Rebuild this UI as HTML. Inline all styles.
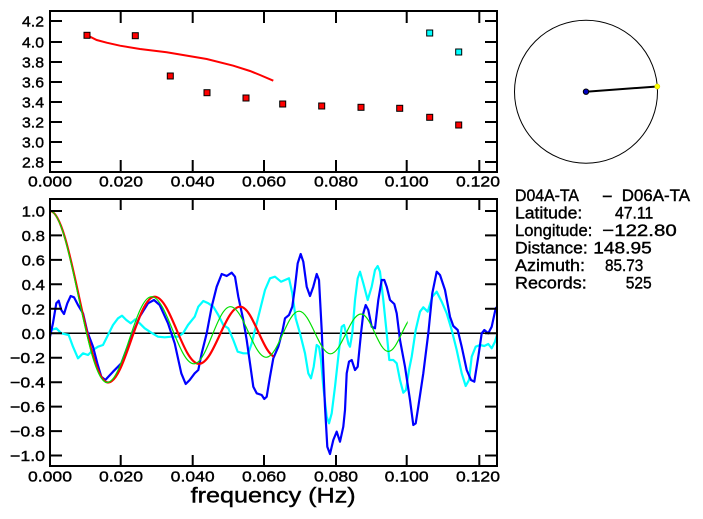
<!DOCTYPE html>
<html><head><meta charset="utf-8"><style>
html,body{margin:0;padding:0;background:#fff;}
svg{display:block;}
text{font-family:"Liberation Sans",sans-serif;fill:#000;stroke:#000;stroke-width:0.4;}
</style></head><body>
<svg width="703" height="519" viewBox="0 0 703 519" xmlns="http://www.w3.org/2000/svg">
<defs>
<clipPath id="cg"><rect x="0" y="190" width="407.7" height="290"/></clipPath>
<clipPath id="cr"><rect x="0" y="190" width="273.5" height="290"/></clipPath>
</defs>
<rect width="703" height="519" fill="#fff"/>

<!-- TOP PLOT -->
<rect x="50" y="11" width="447" height="161" fill="none" stroke="#000" stroke-width="2"/>
<path d="M50,21h12M50,42h12M50,62h12M50,82h12M50,102h12M50,122h12M50,142h12M50,162h12
M497,21h-12M497,42h-12M497,62h-12M497,82h-12M497,102h-12M497,122h-12M497,142h-12M497,162h-12
M120.7,11v12M192.7,11v12M264,11v12M336,11v12M406.7,11v12M479.3,11v12
M120.7,172v-12M192.7,172v-12M264,172v-12M336,172v-12M406.7,172v-12M479.3,172v-12" stroke="#000" stroke-width="2" fill="none"/>
<g font-size="15" text-anchor="end">
<text x="44" y="26.5" textLength="22" lengthAdjust="spacingAndGlyphs">4.2</text>
<text x="44" y="47.5" textLength="22" lengthAdjust="spacingAndGlyphs">4.0</text>
<text x="44" y="67.5" textLength="22" lengthAdjust="spacingAndGlyphs">3.8</text>
<text x="44" y="87.5" textLength="22" lengthAdjust="spacingAndGlyphs">3.6</text>
<text x="44" y="107.5" textLength="22" lengthAdjust="spacingAndGlyphs">3.4</text>
<text x="44" y="127.5" textLength="22" lengthAdjust="spacingAndGlyphs">3.2</text>
<text x="44" y="147.5" textLength="22" lengthAdjust="spacingAndGlyphs">3.0</text>
<text x="44" y="167.5" textLength="22" lengthAdjust="spacingAndGlyphs">2.8</text>
</g>
<g font-size="15" text-anchor="middle">
<text x="50" y="186.7" textLength="44" lengthAdjust="spacingAndGlyphs">0.000</text>
<text x="121" y="186.7" textLength="44" lengthAdjust="spacingAndGlyphs">0.020</text>
<text x="192.7" y="186.7" textLength="44" lengthAdjust="spacingAndGlyphs">0.040</text>
<text x="264" y="186.7" textLength="44" lengthAdjust="spacingAndGlyphs">0.060</text>
<text x="336" y="186.7" textLength="44" lengthAdjust="spacingAndGlyphs">0.080</text>
<text x="406.7" y="186.7" textLength="44" lengthAdjust="spacingAndGlyphs">0.100</text>
<text x="478" y="186.7" textLength="44" lengthAdjust="spacingAndGlyphs">0.120</text>
</g>
<polyline points="87,35.3 90,36.7 96.7,40 106.7,42.7 120,45.7 140,49 166.7,52.3 206.7,59 233.3,65.7 250,71 260,75 273.3,80.7" fill="none" stroke="#ff0000" stroke-width="2"/>
<g stroke="#000" stroke-width="1" fill="#ff0000">
<rect x="84" y="32.3" width="6" height="6"/>
<rect x="132.3" y="32.7" width="6" height="6"/>
<rect x="167.3" y="73" width="6" height="6"/>
<rect x="204" y="89.7" width="6" height="6"/>
<rect x="243" y="95" width="6" height="6"/>
<rect x="279.7" y="101" width="6" height="6"/>
<rect x="318.7" y="103" width="6" height="6"/>
<rect x="358" y="104.3" width="6" height="6"/>
<rect x="396.7" y="105.3" width="6" height="6"/>
<rect x="426.7" y="114.3" width="6" height="6"/>
<rect x="455.7" y="122" width="6" height="6"/>
</g>
<g stroke="#000" stroke-width="1" fill="#00ffff">
<rect x="426.7" y="30" width="6" height="6"/>
<rect x="455.7" y="49" width="6" height="6"/>
</g>

<!-- CIRCLE -->
<circle cx="586" cy="91.7" r="71.5" fill="none" stroke="#000" stroke-width="1"/>
<line x1="586" y1="91.7" x2="657.3" y2="86.5" stroke="#000" stroke-width="2"/>
<circle cx="586" cy="91.7" r="2.7" fill="#0000c0" stroke="#000" stroke-width="1"/>
<circle cx="657.3" cy="86.5" r="2.6" fill="#ffff00" stroke="#c8c800" stroke-width="0.5"/>

<!-- INFO TEXT -->
<g font-size="17">
<text x="515" y="201" textLength="64" lengthAdjust="spacingAndGlyphs">D04A-TA</text>
<text x="601.7" y="201" textLength="11.3" lengthAdjust="spacingAndGlyphs">-</text>
<text x="621.7" y="201" textLength="68.3" lengthAdjust="spacingAndGlyphs">D06A-TA</text>
<text x="515" y="218.5" textLength="67.3" lengthAdjust="spacingAndGlyphs">Latitude:</text>
<text x="615" y="218.5" textLength="38.3" lengthAdjust="spacingAndGlyphs">47.11</text>
<text x="515" y="235.9" textLength="77.3" lengthAdjust="spacingAndGlyphs">Longitude:</text>
<text x="602.3" y="235.9" textLength="74.4" lengthAdjust="spacingAndGlyphs">−122.80</text>
<text x="515" y="253.4" textLength="72.7" lengthAdjust="spacingAndGlyphs">Distance:</text>
<text x="593.3" y="253.4" textLength="58.4" lengthAdjust="spacingAndGlyphs">148.95</text>
<text x="515" y="270.8" textLength="70" lengthAdjust="spacingAndGlyphs">Azimuth:</text>
<text x="605" y="270.8" textLength="38.3" lengthAdjust="spacingAndGlyphs">85.73</text>
<text x="515" y="288.3" textLength="71.7" lengthAdjust="spacingAndGlyphs">Records:</text>
<text x="625.7" y="288.3" textLength="26" lengthAdjust="spacingAndGlyphs">525</text>
</g>

<!-- BOTTOM PLOT -->
<line x1="50" y1="333.3" x2="497" y2="333.3" stroke="#000" stroke-width="1.5"/>

<polyline fill="none" stroke="#00ffff" stroke-width="2.2" stroke-linejoin="round" points="50,332 51.3,330 56.3,328.3 61.3,333.3 68.7,335 73,346.7 78,358.3 83,353.3 88,355 93,350 98,346.7 103,345 108,335 113,325 118,318.3 122,315.7 126.3,320 130.7,323.3 135.3,319.3 139.7,323.3 144.7,328.3 151.3,332.7 158,336.7 164.7,337.3 171.3,336.7 178,336.7 183,333.3 188,325 194.7,316.7 198.3,306.7 203.3,301 208.3,303.3 213.3,306.7 218.3,315 223.3,325 228.3,328.3 233.3,340 237.7,351.7 243.3,353.3 248.3,353.3 251.7,343.3 255,330 260,310 265,290 270,278.3 275,276.7 281,281.7 285,280 289,278.3 292.3,293.3 295.7,318.3 300,333.3 305,353.3 308.3,373.3 311,378.3 313.7,366.7 316.7,345 319,346.7 321,360 323.3,386.7 326.7,416.7 329,423.3 331.7,413.3 335,386.7 338.3,356.7 341.7,326.7 344,325 346.7,336 348.5,344 350,346.7 352.3,333.3 355,300 357.7,278.3 360,271.7 363.3,283.3 367.7,300 371.7,286.7 375,270 377.7,266 380,271.7 383.3,300 386.7,333.3 389.3,360 393.3,360 396.7,363.3 400,380 403.3,392.7 406,390 409,370 411.7,356.7 415.7,330 420,311.7 423.3,307.3 427.7,311.7 432.3,296.7 436.7,291.7 441.7,301.7 446.7,313.3 451.7,330 456.7,350 461.7,373.3 465.7,386 469,380 471.7,356.7 475.7,346.7 480,345 484.3,346 488.3,344 491.7,348.3 495,341.7 497,335"/>

<polyline fill="none" stroke="#0000ff" stroke-width="2.2" stroke-linejoin="round" points="50,336.7 53,323 56.3,303.3 58.7,300.7 61.3,310 64,314 67.3,303.3 70.7,296 74,297.3 78,305 83,313.3 87.3,331.7 93,346.7 97.3,363.3 101.3,376.7 105.3,380 113,371.7 121.3,363.3 126.3,350 133,333.3 139.7,316.7 148,303.3 154,300 159.7,305 168,323.3 174.7,343.3 181.3,373.3 185.7,384 189.7,380 194.7,373.3 198.3,370 201.7,353.3 206.7,333.3 211.7,306.7 216.7,286.7 221.7,274 226.7,276 231.7,272.7 235,276.7 238.3,296.7 243.3,320 246.7,340 250,363.3 253.3,386.7 256.7,393.3 261.7,395 264.3,399 266.7,396.7 270,376.7 273.3,358.3 278.3,346.7 282.3,331.7 285,318.3 289,315 292.3,306.7 295,286.7 297.7,263.3 300.7,254 303.3,261.7 306.7,286.7 310,296 313.3,286.7 316.7,274 319,280 321.7,330 325,406.7 327.3,446.7 330,454 333.3,440 336.7,431.7 340,441.7 343.3,426.7 345,410 346.7,373.3 349,361.7 351.7,360 355,370 357.7,366.7 361,333.3 363.3,313.3 365.7,305 368.3,310 371.7,326.7 375,328.3 378.3,300 381.7,280 384.3,280 386.7,286.7 390,300 394.3,304 396.7,313.3 400,340 405,366.7 410,400 413.3,425 415.7,423.3 418.3,406.7 423.3,373.3 428.3,333.3 432.3,293.3 436.7,271.7 440,275 445,290 450,316.7 453.3,326 457.7,330 461.7,346.7 466.7,370 471,380 474.3,381.7 478.3,356.7 481.7,333.3 484.3,330 488.3,333.3 491.7,326.7 495.7,308.3 497,307"/>

<path clip-path="url(#cr)" fill="none" stroke="#ff0000" stroke-width="2.2" d="M50,211 C71.1,211 86.9,382.5 108,382.5 C124.9,382.5 137.7,296.7 154.6,296.7 C170.7,296.7 182.9,363.8 199,363.8 C214,363.8 225.2,306.7 240.2,306.7 C253.4,306.7 263.3,357.3 276.5,357.3"/>

<path clip-path="url(#cg)" fill="none" stroke="#00e000" stroke-width="1.2" d="M50,211 C70.7,211 86.3,382.5 107,382.5 C123.2,382.5 135.3,296.7 151.5,296.7 C166.9,296.7 178.6,363.8 194,363.8 C207.2,363.8 217.2,306.7 230.4,306.7 C243.4,306.7 253.3,357.3 266.3,357.3 C278.2,357.3 287.1,311.2 299,311.2 C310.4,311.2 319.1,353.8 330.5,353.8 C341.6,353.8 349.9,314 361,314 C371,314 378.4,351.5 388.4,351.5 C398,351.5 405.2,316.1 414.8,316.1"/>

<rect x="50" y="199" width="447" height="267" fill="none" stroke="#000" stroke-width="2"/>
<path d="M50,211h12M50,235.4h12M50,259.9h12M50,284.3h12M50,308.8h12M50,333.3h12M50,357.7h12M50,382.2h12M50,406.6h12M50,431.1h12M50,455.5h12
M497,211h-12M497,235.4h-12M497,259.9h-12M497,284.3h-12M497,308.8h-12M497,333.3h-12M497,357.7h-12M497,382.2h-12M497,406.6h-12M497,431.1h-12M497,455.5h-12
M120.7,199v11M192.7,199v11M264,199v11M336,199v11M406.7,199v11M479.3,199v11
M120.7,466v-11M192.7,466v-11M264,466v-11M336,466v-11M406.7,466v-11M479.3,466v-11" stroke="#000" stroke-width="2" fill="none"/>
<g font-size="15" text-anchor="end">
<text x="45" y="216.5" textLength="23.3" lengthAdjust="spacingAndGlyphs">1.0</text>
<text x="45" y="240.9" textLength="23.3" lengthAdjust="spacingAndGlyphs">0.8</text>
<text x="45" y="265.4" textLength="23.3" lengthAdjust="spacingAndGlyphs">0.6</text>
<text x="45" y="289.8" textLength="23.3" lengthAdjust="spacingAndGlyphs">0.4</text>
<text x="45" y="314.3" textLength="23.3" lengthAdjust="spacingAndGlyphs">0.2</text>
<text x="45" y="338.8" textLength="23.3" lengthAdjust="spacingAndGlyphs">0.0</text>
<text x="45" y="363.2" textLength="35" lengthAdjust="spacingAndGlyphs">−0.2</text>
<text x="45" y="387.7" textLength="35" lengthAdjust="spacingAndGlyphs">−0.4</text>
<text x="45" y="412.1" textLength="35" lengthAdjust="spacingAndGlyphs">−0.6</text>
<text x="45" y="436.6" textLength="35" lengthAdjust="spacingAndGlyphs">−0.8</text>
<text x="45" y="461" textLength="35" lengthAdjust="spacingAndGlyphs">−1.0</text>
</g>
<g font-size="15" text-anchor="middle">
<text x="50" y="481.7" textLength="44" lengthAdjust="spacingAndGlyphs">0.000</text>
<text x="121" y="481.7" textLength="44" lengthAdjust="spacingAndGlyphs">0.020</text>
<text x="192.7" y="481.7" textLength="44" lengthAdjust="spacingAndGlyphs">0.040</text>
<text x="264" y="481.7" textLength="44" lengthAdjust="spacingAndGlyphs">0.060</text>
<text x="336" y="481.7" textLength="44" lengthAdjust="spacingAndGlyphs">0.080</text>
<text x="406.7" y="481.7" textLength="44" lengthAdjust="spacingAndGlyphs">0.100</text>
<text x="478" y="481.7" textLength="44" lengthAdjust="spacingAndGlyphs">0.120</text>
</g>
<text x="190.7" y="502.5" font-size="21" textLength="165" lengthAdjust="spacingAndGlyphs">frequency (Hz)</text>
</svg>
</body></html>
